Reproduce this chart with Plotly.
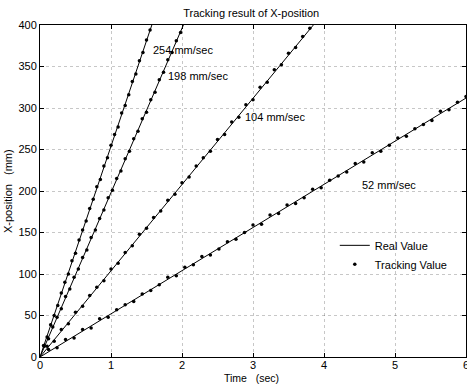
import plotly.graph_objects as go

# Real value lines: start/end points (time sec, position mm)
speeds = ["254 mm/sec", "198 mm/sec", "104 mm/sec", "52 mm/sec"]
real_t = [[0, 1.575], [0, 2.02], [0, 3.85], [0, 6.0]]
real_x = [[0, 400], [0, 400], [0, 400], [0, 312]]

# Tracking values
t254 = [0.05 * k for k in range(1, 32)]
x254 = [14, 24, 39, 50, 62, 77, 90, 100, 116, 125, 141, 153, 164, 179, 190, 205,
        214, 230, 240, 255, 268, 277, 294, 303, 316, 332, 341, 357, 367, 382, 394]
t198 = [0.06 * k for k in range(1, 34)]
x198 = [13, 22, 36, 48, 58, 73, 82, 96, 106, 120, 129, 144, 153, 167, 177, 192,
        201, 215, 224, 239, 248, 263, 272, 287, 295, 310, 319, 334, 343, 358, 367, 381, 391]
t104 = [0.1 * k for k in range(1, 39)]
x104 = [13, 19, 33, 40, 54, 61, 74, 84, 92, 106, 113, 126, 134, 148, 155, 168,
        176, 189, 196, 210, 217, 230, 240, 248, 262, 268, 283, 289, 304, 310, 325,
        331, 346, 352, 366, 373, 386, 396]
t52 = [0.12 * k for k in range(1, 51)]
x52 = [9, 11, 21, 23, 33, 35, 46, 48, 57, 63, 67, 76, 80, 87, 96, 98, 108, 111,
       121, 123, 130, 139, 142, 150, 159, 160, 171, 173, 183, 185, 192, 202, 204,
       213, 218, 223, 233, 235, 246, 248, 255, 264, 266, 275, 280, 285, 296, 298,
       307, 314]
track_t = [t254, t198, t104, t52]
track_x = [x254, x198, x104, x52]

fig = go.Figure()
for i in range(4):
    fig.add_trace(go.Scatter(x=real_t[i], y=real_x[i], mode="lines",
                             line=dict(color="black", width=1),
                             name="Real Value", showlegend=(i == 0)))
for i in range(4):
    fig.add_trace(go.Scatter(x=track_t[i], y=track_x[i], mode="markers",
                             marker=dict(color="black", size=3.5),
                             name="Tracking Value", showlegend=(i == 0)))

ann_pos = [(1.56, 370), (1.78, 339), (2.86, 289), (4.5, 207)]
for s, (tx, ty) in zip(speeds, ann_pos):
    fig.add_annotation(x=tx, y=ty, text=s, showarrow=False, xanchor="left",
                       font=dict(size=11, color="black"))

axis_common = dict(showline=True, linecolor="black", linewidth=1, mirror="ticks",
                   ticks="inside", ticklen=4, tickcolor="black",
                   showgrid=True, gridcolor="rgba(0,0,0,0.22)", griddash="dot",
                   gridwidth=1, zeroline=False, automargin=False,
                   tickfont=dict(size=11, color="black"))

fig.update_layout(
    width=467, height=384,
    margin=dict(l=40, r=1, t=25, b=27),
    paper_bgcolor="white", plot_bgcolor="white",
    font=dict(family="Liberation Sans, Arial, sans-serif", size=11, color="black"),
    title=dict(text="Tracking result of X-position", x=0.538, xanchor="center",
               y=0.967, yanchor="middle", font=dict(size=11)),
    xaxis=dict(range=[0, 6], dtick=1, ticklabelstandoff=-2,
               ticklabeloverflow="allow", **axis_common),
    yaxis=dict(range=[0, 400], dtick=50, **axis_common),
    legend=dict(x=0.692, y=0.38, xanchor="left", yanchor="top",
                bgcolor="rgba(0,0,0,0)", font=dict(size=11),
                itemwidth=30, tracegroupgap=0),
)
fig.add_annotation(text="Time   (sec)", xref="paper", yref="paper", x=0.497, y=-0.062,
                   xanchor="center", yanchor="middle", showarrow=False,
                   font=dict(size=10.5))
fig.add_annotation(text="X-position   (mm)", xref="paper", yref="paper", x=-0.075,
                   y=0.5, xanchor="center", yanchor="middle", textangle=-90,
                   showarrow=False, font=dict(size=11))

fig.write_html("out.html")
